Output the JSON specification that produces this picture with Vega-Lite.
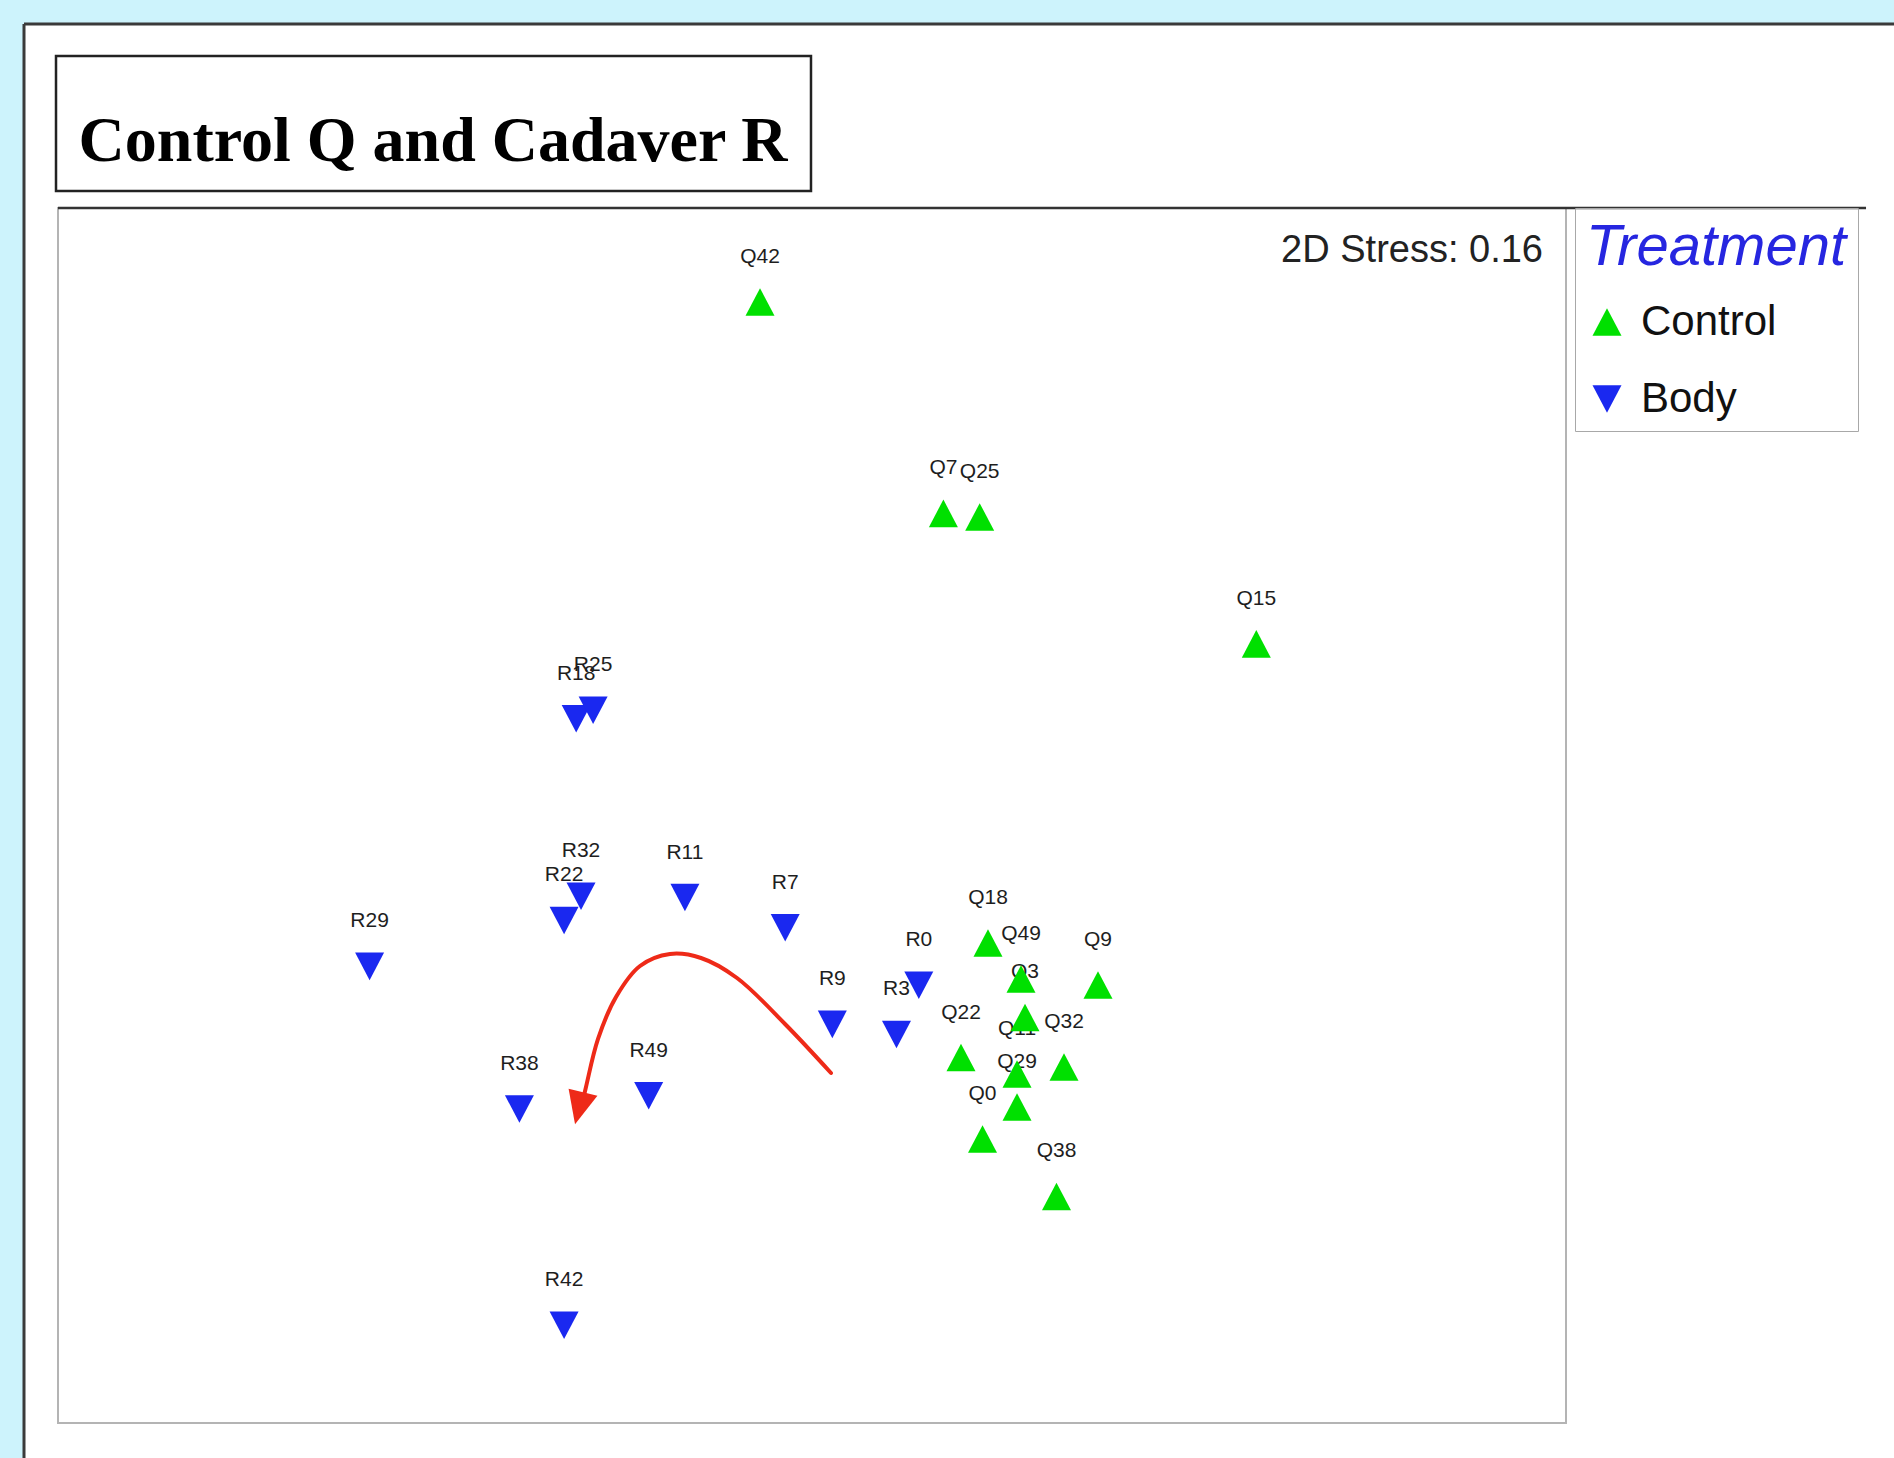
{
  "$schema": "https://vega.github.io/schema/vega-lite/v6.json",
  "width": 1870,
  "height": 1434,
  "autosize": {"type": "none"},
  "padding": {"left": 24, "top": 24, "right": 0, "bottom": 0},
  "background": "#cdf3fc",
  "config": {
    "view": {"stroke": null, "fill": "white"}
  },
  "datasets": {
    "pts": [
      {"label": "Q42", "treatment": "Control", "mds1": -0.1379, "mds2": 1.3524},
      {"label": "Q7", "treatment": "Control", "mds1": 0.3485, "mds2": 0.7957},
      {"label": "Q25", "treatment": "Control", "mds1": 0.4448, "mds2": 0.7862},
      {"label": "Q15", "treatment": "Control", "mds1": 1.1785, "mds2": 0.4520},
      {"label": "Q18", "treatment": "Control", "mds1": 0.4668, "mds2": -0.3358},
      {"label": "Q49", "treatment": "Control", "mds1": 0.5544, "mds2": -0.4306},
      {"label": "Q3", "treatment": "Control", "mds1": 0.5650, "mds2": -0.5320},
      {"label": "Q9", "treatment": "Control", "mds1": 0.7586, "mds2": -0.4464},
      {"label": "Q22", "treatment": "Control", "mds1": 0.3952, "mds2": -0.6374},
      {"label": "Q11", "treatment": "Control", "mds1": 0.5438, "mds2": -0.6808},
      {"label": "Q32", "treatment": "Control", "mds1": 0.6684, "mds2": -0.6624},
      {"label": "Q29", "treatment": "Control", "mds1": 0.5438, "mds2": -0.7677},
      {"label": "Q0", "treatment": "Control", "mds1": 0.4523, "mds2": -0.8520},
      {"label": "Q38", "treatment": "Control", "mds1": 0.6485, "mds2": -1.0034},
      {"label": "R18", "treatment": "Body", "mds1": -0.6255, "mds2": 0.2547},
      {"label": "R25", "treatment": "Body", "mds1": -0.5806, "mds2": 0.2771},
      {"label": "R32", "treatment": "Body", "mds1": -0.6127, "mds2": -0.2128},
      {"label": "R22", "treatment": "Body", "mds1": -0.6576, "mds2": -0.2765},
      {"label": "R11", "treatment": "Body", "mds1": -0.3371, "mds2": -0.2160},
      {"label": "R7", "treatment": "Body", "mds1": -0.0711, "mds2": -0.2955},
      {"label": "R29", "treatment": "Body", "mds1": -1.1735, "mds2": -0.3974},
      {"label": "R0", "treatment": "Body", "mds1": 0.2833, "mds2": -0.4472},
      {"label": "R9", "treatment": "Body", "mds1": 0.0539, "mds2": -0.5502},
      {"label": "R3", "treatment": "Body", "mds1": 0.2241, "mds2": -0.5768},
      {"label": "R38", "treatment": "Body", "mds1": -0.7761, "mds2": -0.7730},
      {"label": "R49", "treatment": "Body", "mds1": -0.4332, "mds2": -0.7380},
      {"label": "R42", "treatment": "Body", "mds1": -0.6576, "mds2": -1.3424}
    ],
    "arrow": [
      {"step": 1, "mds1": 0.0504, "mds2": -0.6782},
      {"step": 2, "mds1": -0.0716, "mds2": -0.5491},
      {"step": 3, "mds1": -0.1989, "mds2": -0.4280},
      {"step": 4, "mds1": -0.2944, "mds2": -0.3753},
      {"step": 5, "mds1": -0.3767, "mds2": -0.3648},
      {"step": 6, "mds1": -0.4562, "mds2": -0.3964},
      {"step": 7, "mds1": -0.5199, "mds2": -0.4780},
      {"step": 8, "mds1": -0.5676, "mds2": -0.5886},
      {"step": 9, "mds1": -0.5995, "mds2": -0.7151},
      {"step": 10, "mds1": -0.6100, "mds2": -0.7600}
    ],
    "arrowhead": [{"mds1": -0.6180, "mds2": -0.7710}],
    "borders": [
      {"part": "panel", "a": -2.0902, "a2": 2.87, "b": 2.0846, "b2": 2.0846},
      {"part": "panel", "a": -2.0902, "a2": -2.0902, "b": -1.6922, "b2": 2.0846}
    ],
    "topline": [{"a": -2, "a2": 2.7958, "b": 1.6, "b2": 1.6}],
    "frame": [{"a": -2, "a2": 2, "b": -1.6, "b2": 1.6}],
    "titlebox": [{"a": -2.0053, "a2": -0.0027, "b": 1.6448, "b2": 2.0003}],
    "titletext": [{"a": -1.0053, "b": 1.7238, "txt": "Control Q and Cadaver R"}],
    "stress": [{"a": 1.939, "b": 1.4578, "txt": "2D Stress: 0.16"}]
  },
  "layer": [
    {
      "data": {"name": "borders"},
      "mark": {"type": "rule", "color": "#3a3a3a", "strokeWidth": 3},
      "encoding": {
        "x": {"field": "a", "type": "quantitative", "scale": {"domain": [-2.0902, 2.87], "nice": false, "zero": false}, "axis": null},
        "x2": {"field": "a2"},
        "y": {"field": "b", "type": "quantitative", "scale": {"domain": [-1.6922, 2.0846], "nice": false, "zero": false}, "axis": null},
        "y2": {"field": "b2"}
      }
    },
    {
      "data": {"name": "titlebox"},
      "mark": {"type": "rect", "fillOpacity": 0, "stroke": "#222222", "strokeWidth": 2.5},
      "encoding": {
        "x": {"field": "a", "type": "quantitative", "scale": {"domain": [-2.0902, 2.87], "nice": false, "zero": false}, "axis": null},
        "x2": {"field": "a2"},
        "y": {"field": "b", "type": "quantitative", "scale": {"domain": [-1.6922, 2.0846], "nice": false, "zero": false}, "axis": null},
        "y2": {"field": "b2"}
      }
    },
    {
      "data": {"name": "titletext"},
      "mark": {"type": "text", "font": "Liberation Serif", "fontWeight": "bold", "fontSize": 64, "align": "center", "baseline": "alphabetic", "color": "#000000"},
      "encoding": {
        "x": {"field": "a", "type": "quantitative", "scale": {"domain": [-2.0902, 2.87], "nice": false, "zero": false}, "axis": null},
        "y": {"field": "b", "type": "quantitative", "scale": {"domain": [-1.6922, 2.0846], "nice": false, "zero": false}, "axis": null},
        "text": {"field": "txt", "type": "nominal"}
      }
    },
    {
      "data": {"name": "frame"},
      "mark": {"type": "rect", "fillOpacity": 0, "stroke": "#b4b4b4", "strokeWidth": 2},
      "encoding": {
        "x": {"field": "a", "type": "quantitative", "scale": {"domain": [-2.0902, 2.87], "nice": false, "zero": false}, "axis": null},
        "x2": {"field": "a2"},
        "y": {"field": "b", "type": "quantitative", "scale": {"domain": [-1.6922, 2.0846], "nice": false, "zero": false}, "axis": null},
        "y2": {"field": "b2"}
      }
    },
    {
      "data": {"name": "topline"},
      "mark": {"type": "rule", "color": "#333333", "strokeWidth": 2.5},
      "encoding": {
        "x": {"field": "a", "type": "quantitative", "scale": {"domain": [-2.0902, 2.87], "nice": false, "zero": false}, "axis": null},
        "x2": {"field": "a2"},
        "y": {"field": "b", "type": "quantitative", "scale": {"domain": [-1.6922, 2.0846], "nice": false, "zero": false}, "axis": null},
        "y2": {"field": "b2"}
      }
    },
    {
      "data": {"name": "stress"},
      "mark": {"type": "text", "font": "Liberation Sans", "fontSize": 38, "align": "right", "baseline": "alphabetic", "color": "#222222"},
      "encoding": {
        "x": {"field": "a", "type": "quantitative", "scale": {"domain": [-2.0902, 2.87], "nice": false, "zero": false}, "axis": null},
        "y": {"field": "b", "type": "quantitative", "scale": {"domain": [-1.6922, 2.0846], "nice": false, "zero": false}, "axis": null},
        "text": {"field": "txt", "type": "nominal"}
      }
    },
    {
      "data": {"name": "arrow"},
      "mark": {"type": "line", "color": "#ee2a18", "strokeWidth": 4, "interpolate": "catmull-rom", "strokeCap": "round"},
      "encoding": {
        "x": {"field": "mds1", "type": "quantitative", "scale": {"domain": [-2.0902, 2.87], "nice": false, "zero": false}, "axis": null},
        "y": {"field": "mds2", "type": "quantitative", "scale": {"domain": [-1.6922, 2.0846], "nice": false, "zero": false}, "axis": null},
        "order": {"field": "step", "type": "quantitative"}
      }
    },
    {
      "data": {"name": "arrowhead"},
      "mark": {"type": "point", "shape": "M-0.9,-1L0.9,-1L0,1Z", "filled": true, "fill": "#ee2a18", "opacity": 1, "size": 1089, "angle": 14, "strokeWidth": 0},
      "encoding": {
        "x": {"field": "mds1", "type": "quantitative", "scale": {"domain": [-2.0902, 2.87], "nice": false, "zero": false}, "axis": null},
        "y": {"field": "mds2", "type": "quantitative", "scale": {"domain": [-1.6922, 2.0846], "nice": false, "zero": false}, "axis": null}
      }
    },
    {
      "data": {"name": "pts"},
      "mark": {"type": "text", "font": "Liberation Sans", "fontSize": 21, "dy": -45, "align": "center", "baseline": "middle", "color": "#1e1e1e"},
      "encoding": {
        "x": {"field": "mds1", "type": "quantitative", "scale": {"domain": [-2.0902, 2.87], "nice": false, "zero": false}, "axis": null},
        "y": {"field": "mds2", "type": "quantitative", "scale": {"domain": [-1.6922, 2.0846], "nice": false, "zero": false}, "axis": null},
        "text": {"field": "label", "type": "nominal"}
      }
    },
    {
      "data": {"name": "pts"},
      "mark": {"type": "point", "filled": true, "opacity": 1, "size": 841, "strokeWidth": 0},
      "encoding": {
        "x": {"field": "mds1", "type": "quantitative", "scale": {"domain": [-2.0902, 2.87], "nice": false, "zero": false}, "axis": null},
        "y": {"field": "mds2", "type": "quantitative", "scale": {"domain": [-1.6922, 2.0846], "nice": false, "zero": false}, "axis": null},
        "color": {
          "field": "treatment", "type": "nominal", "title": "Treatment",
          "scale": {"domain": ["Control", "Body"], "range": ["#00e000", "#1a28f0"]},
          "legend": {
            "orient": "none", "legendX": 1551, "legendY": 184,
            "padding": 11, "strokeColor": "#a8a8a8",
            "titleFont": "Liberation Sans", "titleFontStyle": "italic", "titleFontWeight": "normal", "titleFontSize": 58, "titleColor": "#2626e0", "titlePadding": 24, "titleLimit": 1000,
            "labelFont": "Liberation Sans", "labelFontSize": 42, "labelColor": "#111111", "labelOffset": 13, "labelLimit": 1000,
            "symbolSize": 841, "symbolStrokeWidth": 0, "symbolOpacity": 1, "rowPadding": 35
          }
        },
        "shape": {
          "field": "treatment", "type": "nominal", "title": "Treatment",
          "scale": {"domain": ["Control", "Body"], "range": ["M0,-0.95L1,0.95L-1,0.95Z", "M-1,-0.95L1,-0.95L0,0.95Z"]},
          "legend": {
            "orient": "none", "legendX": 1551, "legendY": 184,
            "padding": 11, "strokeColor": "#a8a8a8",
            "titleFont": "Liberation Sans", "titleFontStyle": "italic", "titleFontWeight": "normal", "titleFontSize": 58, "titleColor": "#2626e0", "titlePadding": 24, "titleLimit": 1000,
            "labelFont": "Liberation Sans", "labelFontSize": 42, "labelColor": "#111111", "labelOffset": 13, "labelLimit": 1000,
            "symbolSize": 841, "symbolStrokeWidth": 0, "symbolOpacity": 1, "rowPadding": 35
          }
        }
      }
    }
  ]
}
